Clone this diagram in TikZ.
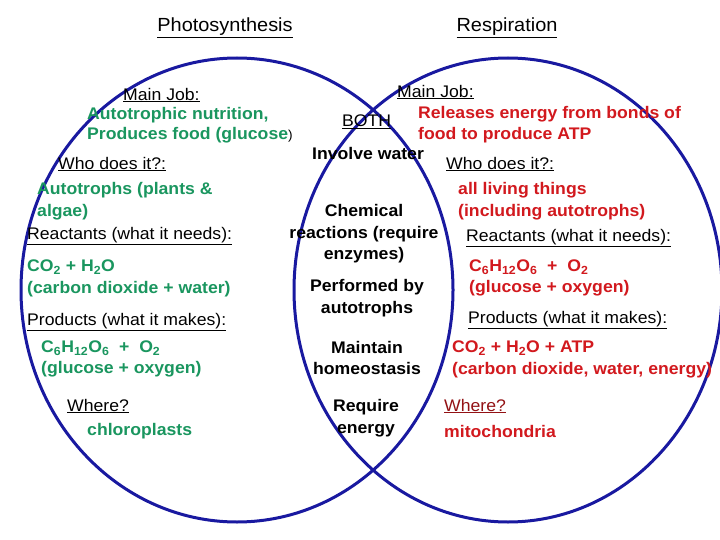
\documentclass[tikz,border=0pt]{standalone}
\usepackage{fontspec}
\setmainfont[FakeStretch=1.05]{Liberation Sans}
\definecolor{vblue}{RGB}{25,25,160}
\definecolor{vgreen}{RGB}{26,150,95}
\definecolor{vred}{RGB}{210,25,30}
\begin{document}
\begin{tikzpicture}[x=1pt,y=-1pt,
  every node/.style={inner sep=0pt,font=\fontsize{16.8}{21.5}\selectfont},
  t/.style={anchor=west},
  g/.style={anchor=west,text=vgreen,font=\fontsize{16.8}{21.5}\selectfont\bfseries},
  r/.style={anchor=west,text=vred,font=\fontsize{16.8}{21.5}\selectfont\bfseries},
  c/.style={align=center,font=\fontsize{16.8}{21.5}\selectfont\bfseries},
  circ/.style={draw=vblue,line width=3pt}]
\useasboundingbox (0,0) rectangle (720,540);
\fill[white] (0,0) rectangle (720,540);
\draw[circ] (237,290) ellipse [x radius=216, y radius=232];
\draw[circ] (508,290) ellipse [x radius=214, y radius=232];
\node (ph) at (225,28) {\fontsize{19}{23}\selectfont\underline{Photosynthesis}};
\node (re) at (507,28) {\fontsize{19}{23}\selectfont\underline{Respiration}};
% left
\node[t] (l1) at (123,95) {\underline{Main Job:}};
\node[g] (l2) at (87,115) {Autotrophic nutrition,};
\node[g] (l3) at (87,135) {Produces food (glucose\textcolor{black}{\mdseries\fontsize{13}{16}\selectfont)}};
\node[t] (l4) at (58,164) {\underline{Who does it?:}};
\node[g] (l5) at (37,190) {Autotrophs (plants \&};
\node[g] (l6) at (37,212) {algae)};
\node[t] (l7) at (27,236) {\underline{Reactants (what it needs):}};
\node[g] (l8) at (27,267) {CO\textsubscript{2} + H\textsubscript{2}O};
\node[g] (l9) at (27,289) {(carbon dioxide + water)};
\node[t] (l10) at (27,322) {\underline{Products (what it makes):}};
\node[g] (l11) at (41,348) {C\textsubscript{6}H\textsubscript{12}O\textsubscript{6}\ \ +\ \ O\textsubscript{2}};
\node[g] (l12) at (41,369) {(glucose + oxygen)};
\node[t] (l13) at (67,406) {\underline{Where?}};
\node[g] (l14) at (87,431) {chloroplasts};
% middle
\node[t] (m1) at (342,122) {\underline{BOTH}};
\node[c] (m2) at (368,153) {Involve water};
\node[c] (m3) at (364,234) {Chemical\\reactions (require\\enzymes)};
\node[c] (m4) at (367,298) {Performed by\\autotrophs};
\node[c] (m5) at (367,358) {Maintain\\homeostasis};
\node[c] (m6) at (366,418) {Require\\energy};
% right
\node[t] (r1) at (397,92) {\underline{Main Job:}};
\node[r] (r2) at (418,114) {Releases energy from bonds of};
\node[r] (r3) at (418,135) {food to produce ATP};
\node[t] (r4) at (446,164) {\underline{Who does it?:}};
\node[r] (r5) at (458,190) {all living things};
\node[r] (r6) at (458,212) {(including autotrophs)};
\node[t] (r7) at (466,238) {\underline{Reactants (what it needs):}};
\node[r] (r8) at (469,267) {C\textsubscript{6}H\textsubscript{12}O\textsubscript{6}\ \ +\ \ O\textsubscript{2}};
\node[r] (r9) at (469,288) {(glucose + oxygen)};
\node[t] (r10) at (468,320) {\underline{Products (what it makes):}};
\node[r] (r11) at (452,348) {CO\textsubscript{2} + H\textsubscript{2}O + ATP};
\node[r] (r12) at (452,370) {(carbon dioxide, water, energy)};
\node[t,text=vred!70!black] (r13) at (444,406) {\underline{Where?}};
\node[r] (r14) at (444,431) {mitochondria};
\end{tikzpicture}
\end{document}
